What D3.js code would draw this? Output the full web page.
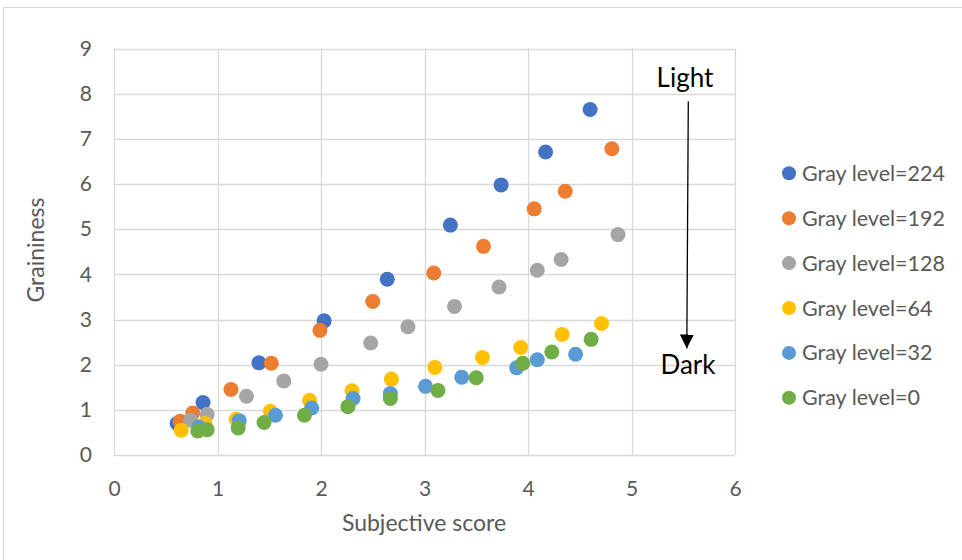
<!DOCTYPE html>
<html>
<head>
<meta charset="utf-8">
<script src="https://cdn.jsdelivr.net/npm/d3@7"></script>
<style>
  body { margin: 0; background: #fff; }
  text { font-family: Lato, "Open Sans", sans-serif; }
</style>
</head>
<body>
<div id="chart"></div>
<script>
const names = ["Gray level=224", "Gray level=192", "Gray level=128", "Gray level=64", "Gray level=32", "Gray level=0"];
const colors = ["#4472C4", "#ED7D31", "#A5A5A5", "#FFC000", "#5B9BD5", "#70AD47"];

const x224 = [0.61, 0.86, 1.40, 2.03, 2.64, 3.25, 3.74, 4.17, 4.60];
const y224 = [0.70, 1.16, 2.04, 2.97, 3.89, 5.09, 5.98, 6.71, 7.65];
const x192 = [0.64, 0.76, 1.13, 1.52, 1.99, 2.50, 3.09, 3.57, 4.06, 4.36, 4.81];
const y192 = [0.75, 0.93, 1.45, 2.03, 2.76, 3.40, 4.03, 4.62, 5.45, 5.84, 6.78];
const x128 = [0.74, 0.90, 1.28, 1.64, 2.00, 2.48, 2.84, 3.29, 3.72, 4.09, 4.32, 4.87];
const y128 = [0.77, 0.90, 1.30, 1.64, 2.01, 2.48, 2.84, 3.29, 3.72, 4.09, 4.33, 4.88];
const x64 = [0.65, 0.88, 1.18, 1.51, 1.89, 2.30, 2.68, 3.10, 3.56, 3.93, 4.33, 4.71];
const y64 = [0.55, 0.70, 0.79, 0.97, 1.21, 1.42, 1.68, 1.94, 2.16, 2.38, 2.67, 2.91];
const x32 = [0.82, 1.21, 1.56, 1.91, 2.31, 2.67, 3.01, 3.36, 3.89, 4.09, 4.46];
const y32 = [0.62, 0.76, 0.88, 1.04, 1.25, 1.36, 1.52, 1.72, 1.93, 2.11, 2.23];
const x0 = [0.81, 0.90, 1.20, 1.45, 1.84, 2.26, 2.67, 3.13, 3.50, 3.95, 4.23, 4.61];
const y0 = [0.53, 0.56, 0.60, 0.72, 0.88, 1.07, 1.25, 1.43, 1.71, 2.03, 2.28, 2.56];

const xTicks = [0, 1, 2, 3, 4, 5, 6];
const yTicks = [0, 1, 2, 3, 4, 5, 6, 7, 8, 9];

const xs = [x224, x192, x128, x64, x32, x0];
const ys = [y224, y192, y128, y64, y32, y0];

const svg = d3.select("#chart").append("svg")
  .attr("width", 962)
  .attr("height", 560);

// chart frame
svg.append("rect")
  .attr("x", 3.5).attr("y", 7.5)
  .attr("width", 970).attr("height", 570)
  .attr("fill", "#fff").attr("stroke", "#d9d9d9");

const x = d3.scaleLinear().domain([0, 6]).range([114, 735]);
const y = d3.scaleLinear().domain([0, 9]).range([455, 48.5]);

// grid
svg.append("g").selectAll("line").data(xTicks).enter().append("line")
  .attr("x1", d => Math.round(x(d)) + 0.5).attr("x2", d => Math.round(x(d)) + 0.5)
  .attr("y1", y(9)).attr("y2", y(0))
  .attr("stroke", "#d9d9d9").attr("stroke-width", 1.3);
svg.append("g").selectAll("line").data(yTicks).enter().append("line")
  .attr("x1", x(0)).attr("x2", x(6))
  .attr("y1", d => Math.round(y(d)) + 0.5).attr("y2", d => Math.round(y(d)) + 0.5)
  .attr("stroke", "#d9d9d9").attr("stroke-width", 1.3);

// axes labels
const xAxis = d3.axisBottom(x).tickValues(xTicks).tickFormat(d3.format("d")).tickSize(0).tickPadding(26);
const gx = svg.append("g").attr("transform", "translate(0," + y(0) + ")").call(xAxis);
gx.select(".domain").remove();
gx.selectAll("text").attr("fill", "#595959").style("font-size", "21px").style("font-family", "Lato, sans-serif");

const yAxis = d3.axisLeft(y).tickValues(yTicks).tickFormat(d3.format("d")).tickSize(0).tickPadding(22);
const gy = svg.append("g").attr("transform", "translate(" + x(0) + ",0)").call(yAxis);
gy.select(".domain").remove();
gy.selectAll("text").attr("fill", "#595959").style("font-size", "21px").style("font-family", "Lato, sans-serif");

svg.append("text")
  .attr("x", 424).attr("y", 531)
  .attr("text-anchor", "middle")
  .attr("fill", "#595959").style("font-size", "23px")
  .text("Subjective score");

svg.append("text")
  .attr("transform", "translate(44,250) rotate(-90)")
  .attr("text-anchor", "middle")
  .attr("fill", "#595959").style("font-size", "23px")
  .text("Graininess");

// points
names.forEach(function(n, i) {
  const pts = xs[i].map(function(v, j) { return { x: v, y: ys[i][j] }; });
  svg.append("g").selectAll("circle").data(pts).enter().append("circle")
    .attr("cx", d => x(d.x))
    .attr("cy", d => y(d.y))
    .attr("r", 7.5)
    .attr("fill", colors[i]);
});

// legend
const lg = svg.append("g").selectAll("g").data(names).enter().append("g")
  .attr("transform", (d, i) => "translate(789," + (173.3 + i * 44.9) + ")");
lg.append("circle").attr("r", 7).attr("fill", (d, i) => colors[i]);
lg.append("text")
  .attr("x", 13).attr("y", 7.5)
  .attr("fill", "#595959").style("font-size", "21.5px")
  .text(d => d);

// light -> dark annotation
svg.append("defs").append("marker")
  .attr("id", "arr").attr("viewBox", "0 0 10 10")
  .attr("refX", 10).attr("refY", 5)
  .attr("markerWidth", 14).attr("markerHeight", 14)
  .attr("markerUnits", "userSpaceOnUse")
  .attr("orient", "auto")
  .append("path").attr("d", "M0,0 L10,5 L0,10 Z").attr("fill", "#000");

svg.append("line")
  .attr("x1", 688.3).attr("y1", 101.5)
  .attr("x2", 686.8).attr("y2", 348.5)
  .attr("stroke", "#000").attr("stroke-width", 1.3)
  .attr("marker-end", "url(#arr)");

svg.append("text")
  .attr("x", 685).attr("y", 87)
  .attr("text-anchor", "middle")
  .attr("fill", "#000").style("font-size", "26px")
  .text("Light");
svg.append("text")
  .attr("x", 688).attr("y", 374)
  .attr("text-anchor", "middle")
  .attr("fill", "#000").style("font-size", "26px")
  .text("Dark");
</script>
</body>
</html>
